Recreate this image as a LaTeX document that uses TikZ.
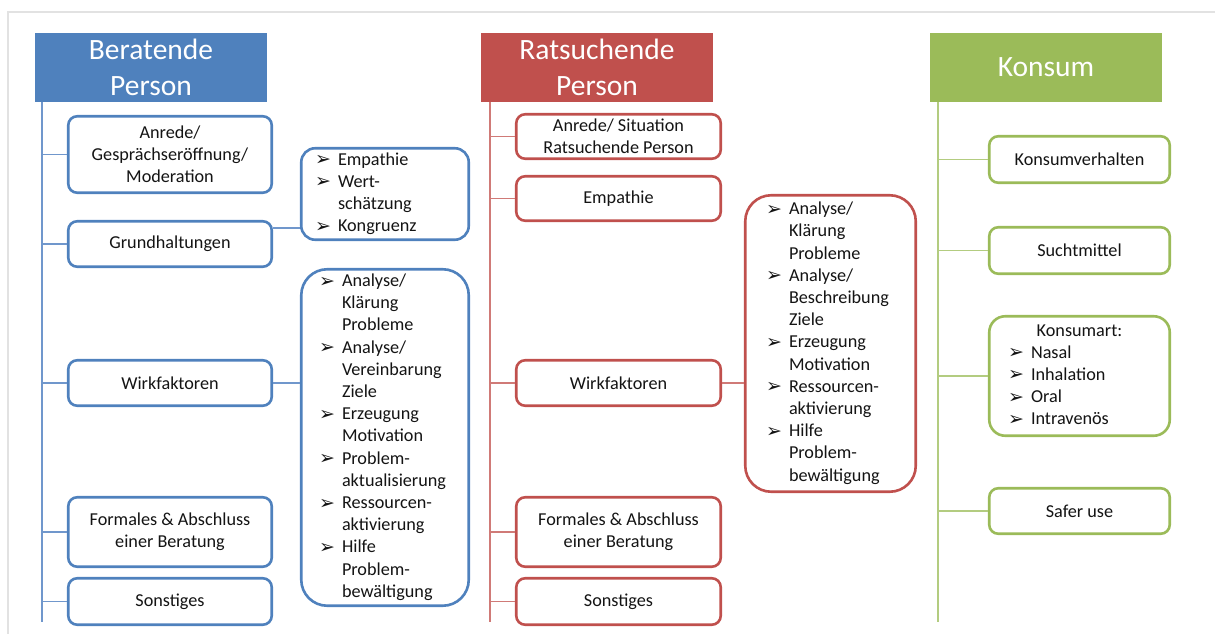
\documentclass[tikz,border=0pt]{standalone}
\usepackage{fontspec}
\setmainfont{Carlito}
\newfontfamily\dejavu{DejaVu Sans}
\definecolor{cb}{HTML}{4F81BD}
\definecolor{cbl}{HTML}{7097CC}
\definecolor{cr}{HTML}{C0504D}
\definecolor{crl}{HTML}{D07A77}
\definecolor{cg}{HTML}{9BBB59}
\definecolor{cgl}{HTML}{B3CC80}
\definecolor{txt}{HTML}{141414}
\definecolor{frm}{HTML}{E2E2E2}
\newlength\lw
\newcommand\bul{\raisebox{-0.5pt}{\dejavu\fontsize{19}{19}\selectfont ➢}}
\newcommand\li[1]{\makebox[\lw][l]{\makebox[23pt][l]{\bul}#1}}
\newcommand\lc[1]{\makebox[\lw][l]{\hspace{23pt}#1}}
\begin{document}
\begin{tikzpicture}[x=1pt,y=-1pt,
  hdr/.style={fill=#1, draw=none, text=white, font=\fontsize{29.5}{36}\selectfont,
    minimum width=232pt, minimum height=69pt, inner sep=0pt, align=center},
  box/.style={draw=#1, fill=white, line width=2.6pt, rounded corners=9pt,
    minimum width=203.5pt, minimum height=45.5pt, inner sep=0pt, align=center,
    font=\fontsize{18.2}{22.2}\selectfont, text=txt},
  listbox/.style={box=#1, rounded corners=22pt},
  trunk/.style={draw=#1, line width=1.6pt},
  frame/.style={draw=frm, line width=1.5pt}]
\useasboundingbox (0,0) rectangle (1215,634);
\draw[frame] (8,634) -- (8,12) -- (1215,12);

% ---------- Beratende Person ----------
\node[hdr=cb] (bh) at (151,67.5) {Beratende\\Person};
\coordinate (btop) at (42,102);
\coordinate (bbot) at (42,622);
\node[box=cb, minimum height=76.5pt] (b1) at (170,154.5) {Anrede/\\Gesprächseröffnung/\\Moderation};
\node[box=cb] (b2) at (170,244) {Grundhaltungen};
\node[box=cb] (b3) at (170,383) {Wirkfaktoren};
\node[box=cb, minimum height=69.5pt] (b4) at (170,532) {Formales \& Abschluss\\einer Beratung};
\node[box=cb, minimum height=46.5pt] (b5) at (170,601.5) {Sonstiges};
\node[listbox=cb, rounded corners=14pt, minimum width=167.5pt, minimum height=91.5pt] (bl1) at (385,194)
  {\setlength\lw{140pt}\begin{tabular}{@{}l@{}}\li{Empathie}\\\li{Wert-}\\\lc{schätzung}\\\li{Kongruenz}\end{tabular}};
\node[listbox=cb, rounded corners=26pt, minimum width=167.5pt, minimum height=336.5pt] (bl2) at (385,437.5)
  {\setlength\lw{132pt}\begin{tabular}{@{}l@{}}\li{Analyse/}\\\lc{Klärung}\\\lc{Probleme}\\
   \li{Analyse/}\\\lc{Vereinbarung}\\\lc{Ziele}\\
   \li{Erzeugung}\\\lc{Motivation}\\
   \li{Problem-}\\\lc{aktualisierung}\\
   \li{Ressourcen-}\\\lc{aktivierung}\\
   \li{Hilfe}\\\lc{Problem-}\\\lc{bewältigung}\end{tabular}};
\draw[trunk=cbl] (btop) -- (bbot);
\foreach \n in {b1,b2,b3,b4,b5} \draw[trunk=cbl] (btop |- \n.west) -- (\n.west);
\coordinate (gy) at (0,228);
\draw[trunk=cbl] (b2.east |- gy) -- (bl1.west |- gy);
\draw[trunk=cbl] (b3.east) -- (b3.east -| bl2.west);

% ---------- Ratsuchende Person ----------
\node[hdr=cr] (rh) at (597,67.5) {Ratsuchende\\Person};
\coordinate (rtop) at (490,102);
\coordinate (rbot) at (490,622);
\node[box=cr, minimum width=204.5pt, minimum height=44.5pt] (r1) at (618.5,136.5) {Anrede/ Situation\\Ratsuchende Person};
\node[box=cr, minimum width=204.5pt, minimum height=44.5pt] (r2) at (618.5,198.5) {Empathie};
\node[box=cr, minimum width=204.5pt] (r3) at (618.5,383) {Wirkfaktoren};
\node[box=cr, minimum width=204.5pt, minimum height=69.5pt] (r4) at (618.5,532) {Formales \& Abschluss\\einer Beratung};
\node[box=cr, minimum width=204.5pt, minimum height=46.5pt] (r5) at (618.5,601.5) {Sonstiges};
\node[listbox=cr, rounded corners=26pt, minimum width=170.5pt, minimum height=296.5pt] (rl) at (830.5,343.5)
  {\setlength\lw{129pt}\begin{tabular}{@{}l@{}}\li{Analyse/}\\\lc{Klärung}\\\lc{Probleme}\\
   \li{Analyse/}\\\lc{Beschreibung}\\\lc{Ziele}\\
   \li{Erzeugung}\\\lc{Motivation}\\
   \li{Ressourcen-}\\\lc{aktivierung}\\
   \li{Hilfe}\\\lc{Problem-}\\\lc{bewältigung}\end{tabular}};
\draw[trunk=crl] (rtop) -- (rbot);
\foreach \n in {r1,r2,r3,r4,r5} \draw[trunk=crl] (rtop |- \n.west) -- (\n.west);
\draw[trunk=crl] (r3.east) -- (r3.east -| rl.west);

% ---------- Konsum ----------
\node[hdr=cg] (gh) at (1046,67.5) {Konsum};
\coordinate (gtop) at (938,102);
\coordinate (gbot) at (938,622);
\node[box=cg, minimum width=180.5pt, minimum height=46.5pt] (g1) at (1079.5,159.5) {Konsumverhalten};
\node[box=cg, minimum width=180.5pt, minimum height=46.5pt] (g2) at (1079.5,250.5) {Suchtmittel};
\node[box=cg, rounded corners=16pt, minimum width=180.5pt, minimum height=119.5pt] (g3) at (1079.5,376)
  {\setlength\lw{143pt}\begin{tabular}{@{}l@{}}\makebox[\lw][c]{Konsumart:}\\\li{Nasal}\\\li{Inhalation}\\\li{Oral}\\\li{Intravenös}\end{tabular}};
\node[box=cg, minimum width=180.5pt] (g4) at (1079.5,511) {Safer use};
\draw[trunk=cgl] (gtop) -- (gbot);
\foreach \n in {g1,g2,g3,g4} \draw[trunk=cgl] (gtop |- \n.west) -- (\n.west);
\end{tikzpicture}
\end{document}
